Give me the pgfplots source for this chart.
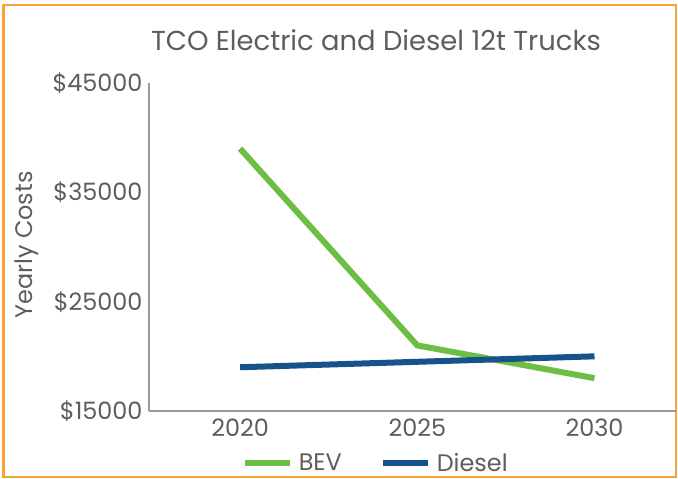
\documentclass[border=0pt]{standalone}
\usepackage{pgfplots}
\pgfplotsset{compat=1.18}
\usepackage{fontspec}
\setmainfont{Poppins}
\definecolor{bev}{HTML}{6CBE45}
\definecolor{dsl}{HTML}{16538A}
\definecolor{txt}{HTML}{5E5E58}
\definecolor{axg}{HTML}{9A9A9E}
\definecolor{frame}{HTML}{F7A33A}
\begin{document}
\begin{tikzpicture}[x=1bp,y=1bp]
\useasboundingbox (-149,-68) rectangle (529,411);
\draw[frame, line width=2.2bp] (-145.5,-66) rectangle (527,406);
\begin{axis}[
  at={(0,0)}, anchor=origin,
  scale only axis, width=527bp, height=328bp,
  xmin=2017.43, xmax=2032.3, ymin=15000, ymax=45000,
  axis lines=left, axis line style={axg, line width=1.3bp, -},
  xtick={2020,2025,2030}, ytick={15000,25000,35000,45000},
  scaled y ticks=false,
  major tick length=0pt,
  x tick label style={font=\fontsize{24}{26}\selectfont, text=txt, yshift=-4bp},
  y tick label style={font=\fontsize{24}{26}\selectfont, text=txt, xshift=-3bp},
  xticklabel={\pgfmathprintnumber[1000 sep={}]{\tick}},
  yticklabel={\$\pgfmathprintnumber[1000 sep={}]{\tick}},
  /pgf/number format/assume math mode=true,
  clip=false,
  legend columns=2,
  legend style={at={(0.17,-0.115)}, anchor=north west, draw=none, fill=none,
    font=\fontsize{24}{26}\selectfont, text=txt,
    /tikz/every odd column/.append style={column sep=4bp},
    /tikz/every even column/.append style={column sep=36bp}},
  legend image code/.code={\draw[#1, line width=6bp] (0bp,0bp) -- (45bp,0bp);},
]
\addplot[bev, line width=6bp] coordinates {(2020,39000) (2025,21000) (2030,18000)};
\addlegendentry{BEV}
\addplot[dsl, line width=6bp] coordinates {(2020,19000) (2025,19500) (2030,20000)};
\addlegendentry{Diesel}
\end{axis}
\node[text=txt, font=\fontsize{27.5}{29}\selectfont] at (227,371) {TCO Electric and Diesel 12t Trucks};
\node[text=txt, font=\fontsize{24}{26}\selectfont, rotate=90] at (-122,166) {Yearly Costs};
\end{tikzpicture}
\end{document}
